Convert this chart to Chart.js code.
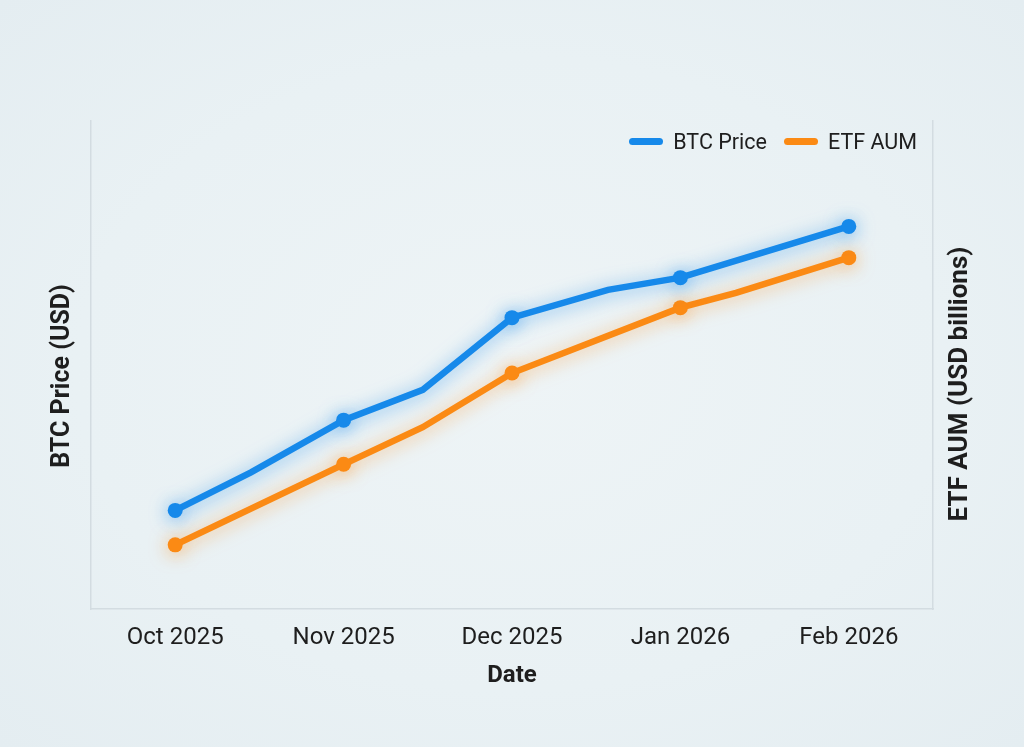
<!DOCTYPE html>
<html>
<head>
<meta charset="utf-8">
<script src="https://cdn.jsdelivr.net/npm/chart.js@4.4.1/dist/chart.umd.min.js"></script>
<style>
  html, body { margin: 0; padding: 0; }
  body {
    width: 1024px; height: 747px; overflow: hidden;
    background: radial-gradient(ellipse at 50% 50%, #eef4f6 0%, #e9f1f4 60%, #e4edf1 100%);
    font-family: Roboto, "Noto Sans", sans-serif;
  }
  #wrap { position: relative; width: 1024px; height: 747px; }
  #legend {
    position: absolute; display: flex; align-items: center;
    font-size: 21.5px; color: #1e1e1e; white-space: nowrap;
  }
  #legend .item { display: flex; align-items: center; margin-left: 17px; }
  #legend .swatch { width: 34px; height: 7px; border-radius: 3.5px; margin-right: 10px; }
</style>
</head>
<body>
<div id="wrap">
  <canvas id="chart" width="1024" height="747"></canvas>
  <div id="legend"></div>
</div>
<script>
  // month ticks on the x axis (index 0..4)
  var monthLabels = ['Oct 2025', 'Nov 2025', 'Dec 2025', 'Jan 2026', 'Feb 2026'];
  var monthTicks = [0, 1, 2, 3, 4];

  // BTC price (x = month position, extra bends between months)
  var btcX     = [0,     0.45,  1,     1.47,   2,      2.57,   3,      4];
  var btcPrice = [80200, 88000, 98700, 104900, 119700, 125400, 127900, 138400];
  var btcDot   = [7.5,   0,     7.5,   0,      7.5,    0,      7.5,    7.5];

  // ETF AUM in USD billions
  var aumX   = [0,    1,    1.47, 2,    3,     3.33,  4];
  var etfAum = [26.3, 59.3, 74.5, 96.7, 123.5, 129.6, 144.0];
  var aumDot = [7.5,  7.5,  0,    7.5,  7.5,   0,     7.5];

  var yTitleLeft = 'BTC Price (USD)';
  var yTitleRight = 'ETF AUM (USD billions)';

  var BLUE = '#1689ea';
  var ORANGE = '#fb8a14';
  var TEXT = '#1e1e1e';

  function pairs(xs, ys){
    return xs.map(function(x, i){ return { x: x, y: ys[i] }; });
  }

  // soft glow under each line
  var glowPlugin = {
    id: 'glow',
    beforeDatasetDraw: function(chart, args){
      var ds = chart.data.datasets[args.index];
      var ctx = chart.ctx;
      ctx.save();
      ctx.filter = 'blur(0.6px)';
      ctx.shadowColor = ds.glowColor;
      ctx.shadowBlur = 18;
      ctx.shadowOffsetY = 2;
    },
    afterDatasetDraw: function(chart){
      chart.ctx.restore();
    }
  };

  // both y titles read bottom-to-top, so draw them here
  var sideTitles = {
    id: 'sideTitles',
    afterDraw: function(chart){
      var a = chart.chartArea, ctx = chart.ctx;
      var mid = (a.top + a.bottom) / 2;
      ctx.save();
      ctx.fillStyle = TEXT;
      ctx.textAlign = 'center';
      ctx.textBaseline = 'middle';
      [[a.left - 28, mid + 11, yTitleLeft, 25], [a.right + 27, mid + 19, yTitleRight, 26]].forEach(function(t){
        ctx.save();
        ctx.font = 'bold ' + t[3] + 'px Roboto, "Noto Sans", sans-serif';
        ctx.translate(t[0], t[1]);
        ctx.rotate(-Math.PI / 2);
        ctx.fillText(t[2], 0, 0);
        ctx.restore();
      });
      ctx.restore();
    }
  };

  Chart.defaults.font.family = 'Roboto, "Noto Sans", sans-serif';
  Chart.defaults.color = TEXT;

  var chart = new Chart(document.getElementById('chart'), {
    type: 'line',
    data: {
      datasets: [{
        label: 'BTC Price',
        data: pairs(btcX, btcPrice),
        yAxisID: 'y',
        borderColor: BLUE,
        backgroundColor: BLUE,
        glowColor: 'rgba(22,137,234,0.6)',
        borderWidth: 6.5,
        pointRadius: btcDot,
        pointBorderWidth: 0,
        pointBackgroundColor: BLUE,
        tension: 0
      }, {
        label: 'ETF AUM',
        data: pairs(aumX, etfAum),
        yAxisID: 'y1',
        borderColor: ORANGE,
        backgroundColor: ORANGE,
        glowColor: 'rgba(251,138,20,0.55)',
        borderWidth: 6.5,
        pointRadius: aumDot,
        pointBorderWidth: 0,
        pointBackgroundColor: ORANGE,
        tension: 0
      }]
    },
    options: {
      responsive: false,
      animation: false,
      layout: { padding: { left: 83, right: 83, top: 121, bottom: 55 } },
      plugins: {
        legend: { display: false },
        tooltip: { enabled: false }
      },
      scales: {
        x: {
          type: 'linear',
          min: -0.5,
          max: 4.5,
          afterBuildTicks: function(scale){
            scale.ticks = monthTicks.map(function(v){ return { value: v }; });
          },
          grid: { display: false },
          border: { color: '#d3dce1', width: 1.5 },
          ticks: {
            padding: 9,
            font: { size: 24, lineHeight: 1 },
            color: TEXT,
            maxRotation: 0,
            callback: function(v){ return monthLabels[v]; }
          },
          title: {
            display: true,
            text: 'Date',
            font: { size: 24, weight: 'bold', lineHeight: 1 },
            color: TEXT,
            padding: { top: 5, bottom: 4 }
          }
        },
        y: {
          position: 'left',
          min: 60000,
          max: 160000,
          grid: { display: false },
          border: { color: '#d3dce1', width: 1.5 },
          ticks: { display: false }
        },
        y1: {
          position: 'right',
          min: 0,
          max: 200,
          grid: { display: false },
          border: { color: '#d3dce1', width: 1.5 },
          ticks: { display: false }
        }
      }
    },
    plugins: [glowPlugin, sideTitles]
  });

  // legend inside the plot, top right
  var legendEl = document.getElementById('legend');
  legendEl.innerHTML = chart.data.datasets.map(function(ds){
    return '<div class="item"><span class="swatch" style="background:' + ds.borderColor + '"></span><span>' + ds.label + '</span></div>';
  }).join('');
  var area = chart.chartArea;
  legendEl.style.right = (1024 - area.right + 16) + 'px';
  legendEl.style.top = (area.top + 20 - legendEl.offsetHeight / 2) + 'px';
</script>
</body>
</html>
